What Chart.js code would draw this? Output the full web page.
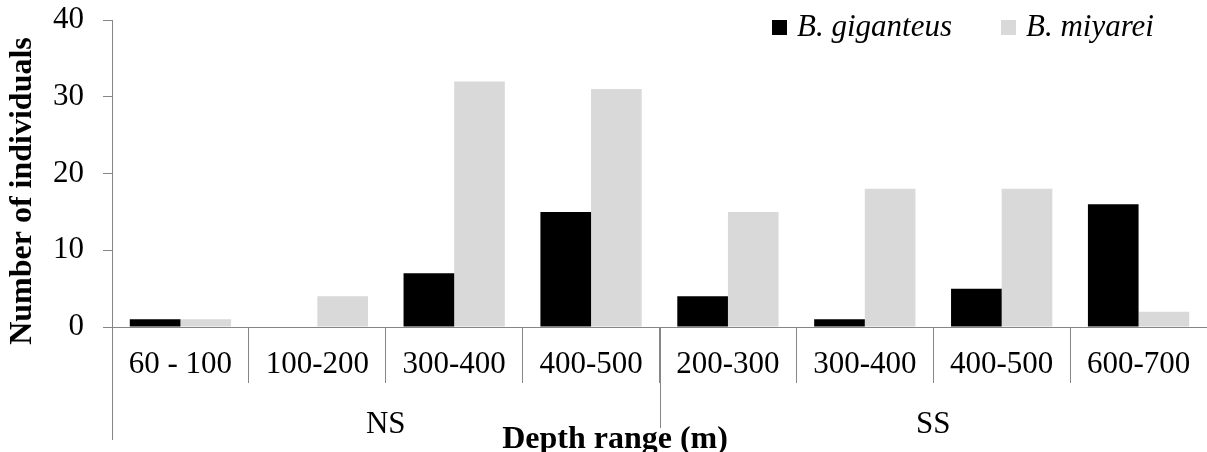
<!DOCTYPE html>
<html>
<head>
<meta charset="utf-8">
<script src="https://cdn.jsdelivr.net/npm/chart.js@4/dist/chart.umd.min.js"></script>
<style>
  html, body { margin: 0; padding: 0; background: #fff; }
  #wrap { width: 1207px; height: 452px; position: relative; }
</style>
</head>
<body>
<div id="wrap"><canvas id="chart"></canvas></div>
<script>
const categories = ["60 - 100", "100-200", "300-400", "400-500", "200-300", "300-400", "400-500", "600-700"];
const groups = ["NS", "SS"];
const groupSizes = [4, 4];
const giganteus = [1, 0, 7, 15, 4, 1, 5, 16];
const miyarei = [1, 4, 32, 31, 15, 18, 18, 2];
const yTicks = [0, 10, 20, 30, 40];

const axisColor = "#868686";
const serif = "'Liberation Serif', 'Times New Roman', serif";

// group labels, group dividers, axis titles and legend drawn on top
const extrasPlugin = {
  id: "extras",
  afterDraw(chart) {
    const { ctx, chartArea } = chart;
    const x = chart.scales.x;
    const half = (x.getPixelForValue(1) - x.getPixelForValue(0)) / 2;
    ctx.save();
    ctx.strokeStyle = axisColor;
    ctx.lineWidth = 1;

    let start = 0;
    groupSizes.forEach((n, g) => {
      const left = x.getPixelForValue(start) - half;
      const right = x.getPixelForValue(start + n - 1) + half;
      const lx = Math.round(left) + 0.5;
      ctx.beginPath();
      ctx.moveTo(lx, chartArea.bottom);
      ctx.lineTo(lx, g === 0 ? 440 : 428);
      ctx.stroke();
      ctx.fillStyle = "#000";
      ctx.font = "31px " + serif;
      ctx.textAlign = "center";
      ctx.textBaseline = "alphabetic";
      ctx.fillText(groups[g], (left + right) / 2, 433);
      start += n;
    });

    // x title
    ctx.font = "bold 32px " + serif;
    ctx.fillStyle = "#000";
    ctx.textAlign = "center";
    ctx.fillText("Depth range (m)", 615, 448);

    // y title
    ctx.save();
    ctx.translate(23, 191);
    ctx.rotate(-Math.PI / 2);
    ctx.textBaseline = "middle";
    ctx.fillText("Number of individuals", 0, 0);
    ctx.restore();

    // legend
    const legendX = [772, 1001];
    ctx.font = "italic 31px " + serif;
    ctx.textAlign = "left";
    ctx.textBaseline = "alphabetic";
    chart.data.datasets.forEach((ds, i) => {
      ctx.fillStyle = ds.backgroundColor;
      ctx.fillRect(legendX[i], 20, 15, 15);
      ctx.fillStyle = "#000";
      ctx.fillText(ds.label, legendX[i] + 25, 36);
    });
    ctx.restore();
  }
};

new Chart(document.getElementById("chart"), {
  type: "bar",
  data: {
    labels: categories,
    datasets: [
      { label: "B. giganteus", data: giganteus, backgroundColor: "#000000" },
      { label: "B. miyarei", data: miyarei, backgroundColor: "#d9d9d9" }
    ]
  },
  options: {
    responsive: true,
    maintainAspectRatio: false,
    animation: false,
    layout: { padding: { top: 20, right: 0, left: 0, bottom: 0 } },
    plugins: { legend: { display: false }, tooltip: { enabled: false } },
    datasets: { bar: { categoryPercentage: 0.74, barPercentage: 1.0 } },
    scales: {
      x: {
        afterFit: (s) => { s.height = 125; s.paddingLeft = 0; s.paddingRight = 0; },
        grid: {
          offset: true,
          drawOnChartArea: false,
          tickLength: 56,
          tickColor: axisColor,
          color: axisColor
        },
        border: { color: axisColor },
        ticks: {
          color: "#000",
          padding: -37,
          maxRotation: 0,
          autoSkip: false,
          font: { family: serif, size: 31 }
        }
      },
      y: {
        min: 0,
        max: 40,
        afterFit: (s) => { s.width = 112; s.paddingTop = 0; s.paddingBottom = 0; },
        afterBuildTicks: (s) => { s.ticks = yTicks.map((v) => ({ value: v })); },
        grid: {
          drawOnChartArea: false,
          tickLength: 9,
          tickColor: axisColor
        },
        border: { color: axisColor },
        ticks: {
          color: "#000",
          crossAlign: "near",
          padding: 19,
          font: { family: serif, size: 31 }
        }
      }
    }
  },
  plugins: [extrasPlugin]
});
</script>
</body>
</html>
